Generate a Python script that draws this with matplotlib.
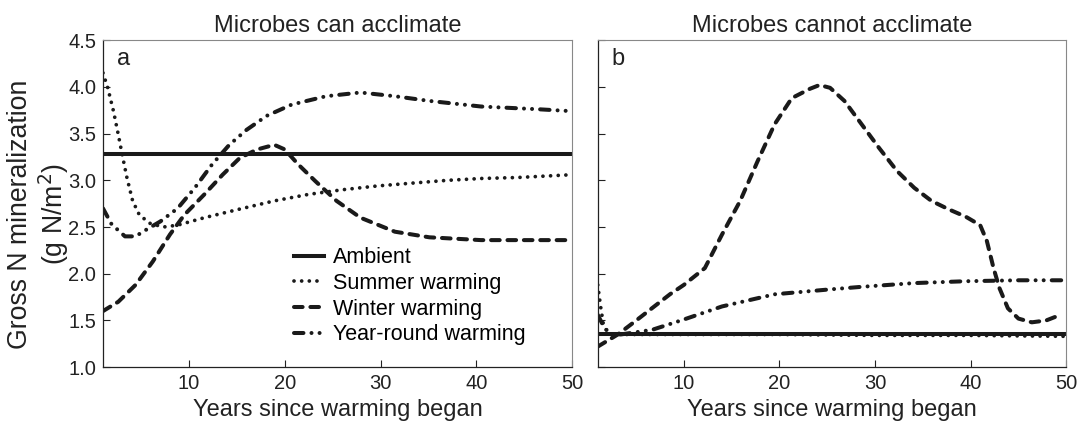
import matplotlib
matplotlib.use("Agg")
import matplotlib.pyplot as plt

plt.rcParams['font.family'] = ['Liberation Sans', 'DejaVu Sans']
plt.rcParams['lines.scale_dashes'] = False

# ---- Panel a: microbes can acclimate ----
a_amb_x = [1, 50]
a_amb_y = [3.28, 3.28]

a_sum_x = [1, 1.5, 2.1, 2.6, 3.0, 3.5, 4.1, 4.8, 5.9, 7.3, 8.8, 11.6, 15.2, 18.9, 22.5, 26.1, 29.7, 33.3, 37, 40.6, 44.3, 50]
a_sum_y = [4.15, 3.99, 3.74, 3.49, 3.28, 3.03, 2.78, 2.63, 2.54, 2.50, 2.52, 2.60, 2.69, 2.78, 2.85, 2.90, 2.94, 2.97, 3.00, 3.02, 3.03, 3.06]

a_win_x = [1, 2.6, 4.4, 6.2, 8, 9.5, 11.6, 13.5, 15.3, 17.1, 18.9, 20, 21.4, 23.2, 25.4, 27.9, 31.5, 35.1, 40.5, 45, 50]
a_win_y = [1.60, 1.70, 1.88, 2.13, 2.42, 2.63, 2.85, 3.06, 3.24, 3.33, 3.38, 3.33, 3.17, 2.99, 2.78, 2.60, 2.45, 2.39, 2.36, 2.36, 2.36]

a_yr_x = [1, 1.9, 3.3, 4.4, 5.5, 7, 8.8, 10.6, 12.4, 14.2, 16, 18.1, 20.7, 24.3, 27.9, 31.5, 35.1, 40.5, 46.6, 50]
a_yr_y = [2.70, 2.53, 2.40, 2.40, 2.47, 2.56, 2.70, 2.92, 3.17, 3.38, 3.54, 3.69, 3.81, 3.90, 3.94, 3.90, 3.85, 3.79, 3.76, 3.74]

# ---- Panel b: microbes cannot acclimate ----
b_amb_x = [1, 50]
b_amb_y = [1.35, 1.35]

b_sum_x = [1, 1.3, 1.6, 2.0, 2.3, 3, 10, 20, 30, 40, 50]
b_sum_y = [1.88, 1.65, 1.45, 1.38, 1.35, 1.35, 1.35, 1.35, 1.34, 1.34, 1.33]

b_win_x = [1, 3.1, 4.9, 8.55, 10, 12.2, 14, 15.9, 17.7, 19.5, 21.3, 23.2, 24.2, 25.3, 26.8, 28.6, 30.4, 32.3, 34.1, 35.9, 37.7, 39.5, 41, 41.7, 42.4, 43, 43.9, 45, 46.4, 47.9, 49.4]
b_win_y = [1.22, 1.35, 1.49, 1.78, 1.88, 2.06, 2.42, 2.78, 3.20, 3.60, 3.88, 3.98, 4.02, 3.99, 3.85, 3.60, 3.35, 3.10, 2.92, 2.78, 2.69, 2.61, 2.52, 2.35, 2.06, 1.85, 1.63, 1.52, 1.48, 1.50, 1.56]

b_yr_x = [1, 1.6, 2.3, 3.4, 6.7, 10, 14, 19.5, 25, 28.6, 34.1, 39.5, 45, 50]
b_yr_y = [1.56, 1.44, 1.35, 1.35, 1.40, 1.51, 1.65, 1.78, 1.83, 1.86, 1.90, 1.92, 1.93, 1.93]

labels = ["Ambient", "Summer warming", "Winter warming", "Year-round warming"]
titles = ["Microbes can acclimate", "Microbes cannot acclimate"]
panel_letters = ["a", "b"]
xticks = [10, 20, 30, 40, 50]
yticks = [1.0, 1.5, 2.0, 2.5, 3.0, 3.5, 4.0, 4.5]

fig = plt.figure(figsize=(10.77, 4.23), dpi=100)
axA = fig.add_axes([0.0956, 0.132, 0.4355, 0.773])
axB = fig.add_axes([0.555, 0.132, 0.435, 0.773])

lw = 2.9
col = '#1a1a1a'
styles = [
    dict(linestyle='-', lw=lw),
    dict(linestyle=(0, (0.01, 5.5)), lw=2.7, dash_capstyle='round'),
    dict(linestyle=(0, (6.2, 5.6)), lw=lw, dash_capstyle='round'),
    dict(linestyle=(0, (6.8, 5.8, 0.01, 5.8, 0.01, 5.8)), lw=lw, dash_capstyle='round'),
]

dataA = [(a_amb_x, a_amb_y), (a_sum_x, a_sum_y), (a_win_x, a_win_y), (a_yr_x, a_yr_y)]
dataB = [(b_amb_x, b_amb_y), (b_sum_x, b_sum_y), (b_win_x, b_win_y), (b_yr_x, b_yr_y)]

tc = '#222222'
for ax, data, title, letter in [(axA, dataA, titles[0], panel_letters[0]), (axB, dataB, titles[1], panel_letters[1])]:
    for (x, y), st, lab in zip(data, styles, labels):
        ax.plot(x, y, color=col, label=lab, **st)
    ax.set_xlim(1, 50)
    ax.set_ylim(1.0, 4.5)
    ax.set_xticks(xticks)
    ax.set_yticks(yticks)
    ax.tick_params(direction='in', length=5, width=0.8, labelsize=14.5, colors=tc, pad=5)
    for s in ['top', 'right']:
        ax.spines[s].set_color('#888888')
        ax.spines[s].set_linewidth(0.8)
    for s in ['left', 'bottom']:
        ax.spines[s].set_color(tc)
        ax.spines[s].set_linewidth(0.9)
    ax.set_title(title, fontsize=17, color=tc, pad=6)
    ax.set_xlabel("Years since warming began", fontsize=17, color=tc, labelpad=4)
    ax.text(0.03, 0.975, letter, transform=ax.transAxes, fontsize=17, va='top', ha='left', color=tc)

axA.set_yticklabels([f"{v:.1f}" for v in yticks])
axB.set_yticklabels([])
axA.set_ylabel("Gross N mineralization\n(g N/m$^2$)", fontsize=19.2, color=tc, linespacing=1.1)
axA.yaxis.set_label_coords(-0.069, 0.468)

axA.legend(loc='lower left', bbox_to_anchor=(0.39, 0.04), frameon=False, fontsize=15.5,
           handlelength=1.35, handletextpad=0.45, labelspacing=0.22, borderaxespad=0)

fig.savefig("out.png", dpi=100)
